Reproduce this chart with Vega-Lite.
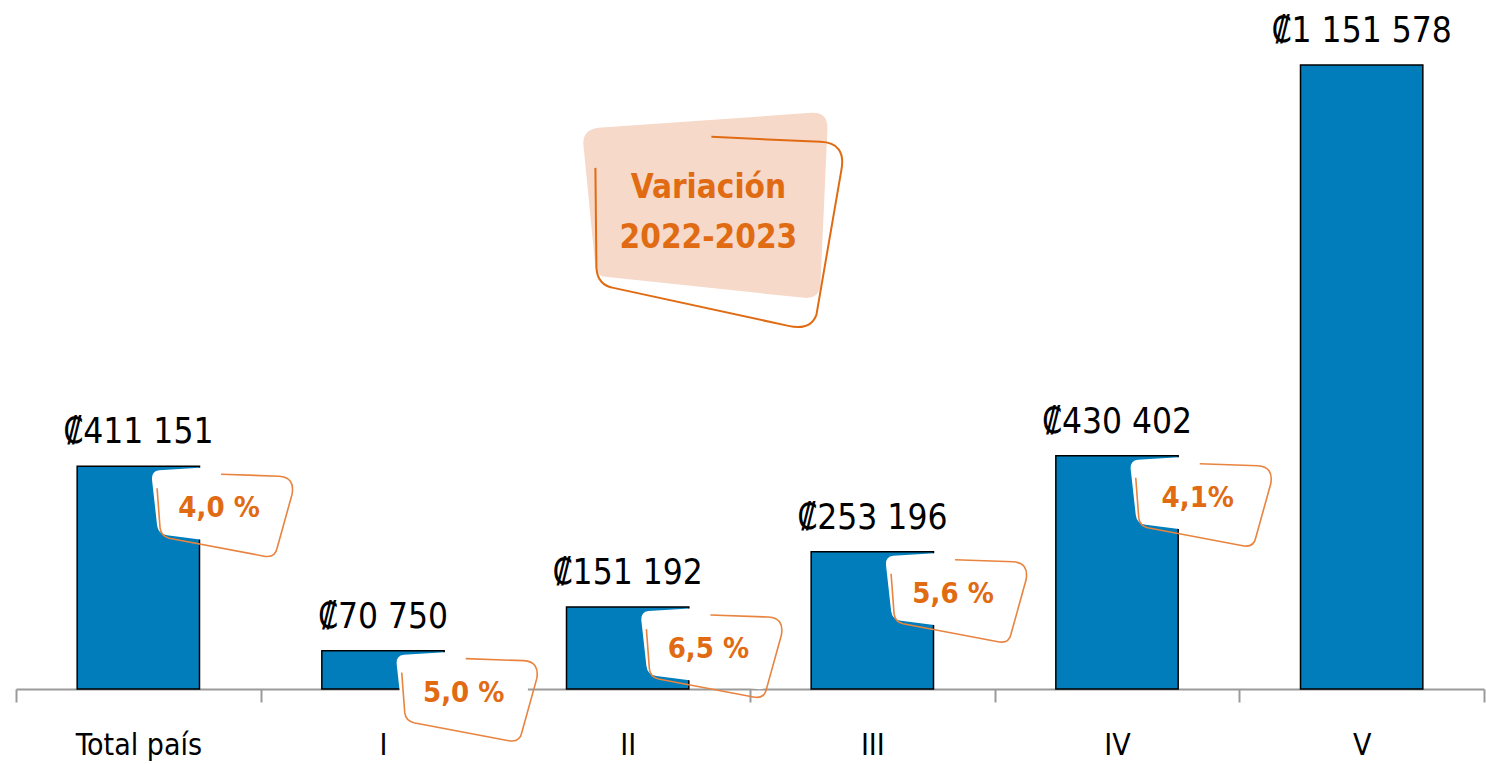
{
  "$schema": "https://vega.github.io/schema/vega-lite/v6.json",
  "width": 1468,
  "height": 689,
  "autosize": {"type": "none"},
  "padding": {"left": 16, "top": 0, "right": 2, "bottom": 75},
  "background": "white",
  "config": {"view": {"stroke": null}, "font": "DejaVu Sans Condensed"},
  "datasets": {
    "main": [
      {"cat": "Total país", "value": 411151, "label": "₡411 151", "pct": "4,0 %"},
      {"cat": "I", "value": 70750, "label": "₡70 750", "pct": "5,0 %"},
      {"cat": "II", "value": 151192, "label": "₡151 192", "pct": "6,5 %"},
      {"cat": "III", "value": 253196, "label": "₡253 196", "pct": "5,6 %"},
      {"cat": "IV", "value": 430402, "label": "₡430 402", "pct": "4,1%"},
      {"cat": "V", "value": 1151578, "label": "₡1 151 578", "pct": null}
    ],
    "note": [
      {"cat": "II", "value": 875000, "text": "Variación\n2022-2023"}
    ]
  },
  "data": {"name": "main"},
  "layer": [
    {
      "mark": {"type": "bar", "fill": "#007DBA", "stroke": "black", "strokeWidth": 1.5, "width": {"band": 0.5}},
      "encoding": {
        "x": {
          "field": "cat", "type": "nominal", "sort": null,
          "scale": {"paddingInner": 0, "paddingOuter": 0},
          "axis": {
            "title": null, "labelAngle": 0, "labelFont": "DejaVu Sans Condensed",
            "labelFontSize": 30, "labelColor": "black", "labelBaseline": "alphabetic",
            "labelPadding": 52, "tickSize": 13, "tickColor": "#9a9a9a", "tickWidth": 2,
            "domainColor": "#9a9a9a", "domainWidth": 2, "tickBand": "extent",
            "labelOverlap": false
          }
        },
        "y": {"field": "value", "type": "quantitative", "scale": {"domain": [0, 1271541], "nice": false, "zero": true}, "axis": null}
      }
    },
    {
      "mark": {"type": "text", "baseline": "alphabetic", "dy": -23, "fontSize": 35, "color": "black", "font": "DejaVu Sans Condensed"},
      "encoding": {
        "x": {"field": "cat", "type": "nominal", "sort": null},
        "y": {"field": "value", "type": "quantitative"},
        "text": {"field": "label"}
      }
    },
    {
      "transform": [{"filter": "datum.pct != null"}],
      "mark": {"type": "point", "shape": "M -0.6,-0.38 L 0.55,-0.45 Q 0.68,-0.46 0.67,-0.33 L 0.61,0.3 Q 0.6,0.41 0.49,0.4 L -0.52,0.27 Q -0.61,0.26 -0.62,0.17 L -0.67,-0.28 Q -0.68,-0.37 -0.6,-0.38 Z", "size": 40000, "filled": true, "fill": "white", "strokeWidth": 0, "opacity": 1, "yOffset": 42},
      "encoding": {
        "x": {"field": "cat", "type": "nominal", "sort": null, "bandPosition": 0.83},
        "y": {"field": "value", "type": "quantitative"}
      }
    },
    {
      "transform": [{"filter": "datum.pct != null"}],
      "mark": {"type": "point", "shape": "M -0.62,-0.2 L -0.59,0.2 Q -0.58,0.28 -0.5,0.3 L 0.45,0.48 Q 0.56,0.5 0.58,0.4 L 0.73,-0.14 Q 0.76,-0.31 0.6,-0.32 L 0.02,-0.34", "size": 40000, "filled": false, "stroke": "#E8843F", "strokeWidth": 1.6, "opacity": 1, "yOffset": 42},
      "encoding": {
        "x": {"field": "cat", "type": "nominal", "sort": null, "bandPosition": 0.83},
        "y": {"field": "value", "type": "quantitative"}
      }
    },
    {
      "transform": [{"filter": "datum.pct != null"}],
      "mark": {"type": "text", "baseline": "middle", "align": "center", "fontSize": 29, "fontWeight": "bold", "color": "#E06B12", "yOffset": 42, "font": "DejaVu Sans Condensed"},
      "encoding": {
        "x": {"field": "cat", "type": "nominal", "sort": null, "bandPosition": 0.83},
        "y": {"field": "value", "type": "quantitative"},
        "text": {"field": "pct"}
      }
    },
    {
      "data": {"name": "note"},
      "mark": {"type": "point", "shape": "M -1.1,-0.87 L 1.03,-1.02 Q 1.2,-1.03 1.19,-0.85 L 1.12,0.7 Q 1.11,0.84 0.96,0.83 L -1.03,0.62 Q -1.12,0.61 -1.13,0.52 L -1.25,-0.7 Q -1.26,-0.85 -1.1,-0.87 Z", "size": 40000, "filled": true, "fill": "#F6D9C9", "strokeWidth": 0, "opacity": 1},
      "encoding": {
        "x": {"field": "cat", "type": "nominal", "sort": null, "bandPosition": 0.83},
        "y": {"field": "value", "type": "quantitative"}
      }
    },
    {
      "data": {"name": "note"},
      "mark": {"type": "point", "shape": "M -1.13,-0.47 L -1.12,0.53 Q -1.11,0.7 -0.95,0.73 L 0.8,1.11 Q 1.02,1.16 1.08,1.0 L 1.33,-0.45 Q 1.38,-0.72 1.12,-0.73 L 0.03,-0.78", "size": 40000, "filled": false, "stroke": "#E06B12", "strokeWidth": 2, "opacity": 1},
      "encoding": {
        "x": {"field": "cat", "type": "nominal", "sort": null, "bandPosition": 0.83},
        "y": {"field": "value", "type": "quantitative"}
      }
    },
    {
      "data": {"name": "note"},
      "mark": {"type": "text", "baseline": "middle", "align": "center", "fontSize": 33, "fontWeight": "bold", "color": "#E06B12", "lineBreak": "\n", "lineHeight": 50, "dy": -27, "font": "DejaVu Sans Condensed"},
      "encoding": {
        "x": {"field": "cat", "type": "nominal", "sort": null, "bandPosition": 0.83},
        "y": {"field": "value", "type": "quantitative"},
        "text": {"field": "text"}
      }
    }
  ]
}
